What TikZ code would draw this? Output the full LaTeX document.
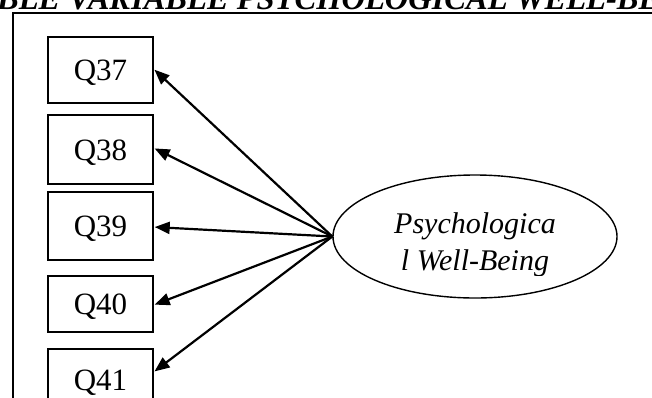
\documentclass[tikz,border=0pt]{standalone}
\usepackage{fontspec}
\setmainfont{Liberation Serif}
\usetikzlibrary{arrows.meta,shapes.geometric}
\tikzset{
  itembox/.style={draw, line width=1.4pt, minimum width=105pt, inner sep=0pt,
    font=\fontsize{31}{36}\selectfont, text height=21pt, text depth=0pt},
  latent/.style={draw, ellipse, line width=1.4pt, minimum width=284pt,
    minimum height=123pt, inner sep=0pt},
  latentlabel/.style={font=\fontsize{30}{36}\selectfont\itshape, anchor=base, inner sep=0pt},
  loading/.style={line width=2.2pt, -{Triangle[length=15pt,width=12pt]}, shorten >=1pt},
  frameline/.style={line width=2.2pt}
}
\begin{document}
\begin{tikzpicture}[x=1pt,y=-1pt]
\useasboundingbox (0,0) rectangle (652,397);
\clip (0,0) rectangle (652,397);

% heading line running above the frame
\node[font=\fontsize{32.5}{36}\selectfont\bfseries\itshape, anchor=base west, inner sep=0pt]
  (title) at (-3,9) {BLE VARIABLE PSYCHOLOGICAL WELL-BE};

% outer frame
\coordinate (framebl) at (13,410);
\coordinate (frametl) at (13,13);
\coordinate (frametr) at (670,13);
\draw[frameline] (framebl) -- (frametl) -- (frametr);

% observed items
\node[itembox, minimum height=66pt] (q37) at (100.5,70) {Q37};
\node[itembox, minimum height=69pt] (q38) at (100.5,149.5) {Q38};
\node[itembox, minimum height=68pt] (q39) at (100.5,226) {Q39};
\node[itembox, minimum height=56pt] (q40) at (100.5,304) {Q40};
\node[itembox, minimum height=62pt] (q41) at (100.5,380) {Q41};

% latent construct
\node[latent] (pwb) at (475,236.5) {};
\begin{scope}
  \clip (330,170) rectangle (620,275);
  \node[latentlabel] (pwbline1) at (475,233) {Psychologica};
  \node[latentlabel] (pwbline2) at (475,270) {l Well-Being};
\end{scope}

% loadings
\draw[loading] (pwb.west) -- ([yshift=1pt]q37.east);
\draw[loading] (pwb.west) -- ([yshift=1.5pt]q38.east);
\draw[loading] (pwb.west) -- ([yshift=-1pt]q39.east);
\draw[loading] (pwb.west) -- ([yshift=-1pt]q40.east);
\draw[loading] (pwb.west) -- ([yshift=8pt]q41.east);
\end{tikzpicture}
\end{document}
